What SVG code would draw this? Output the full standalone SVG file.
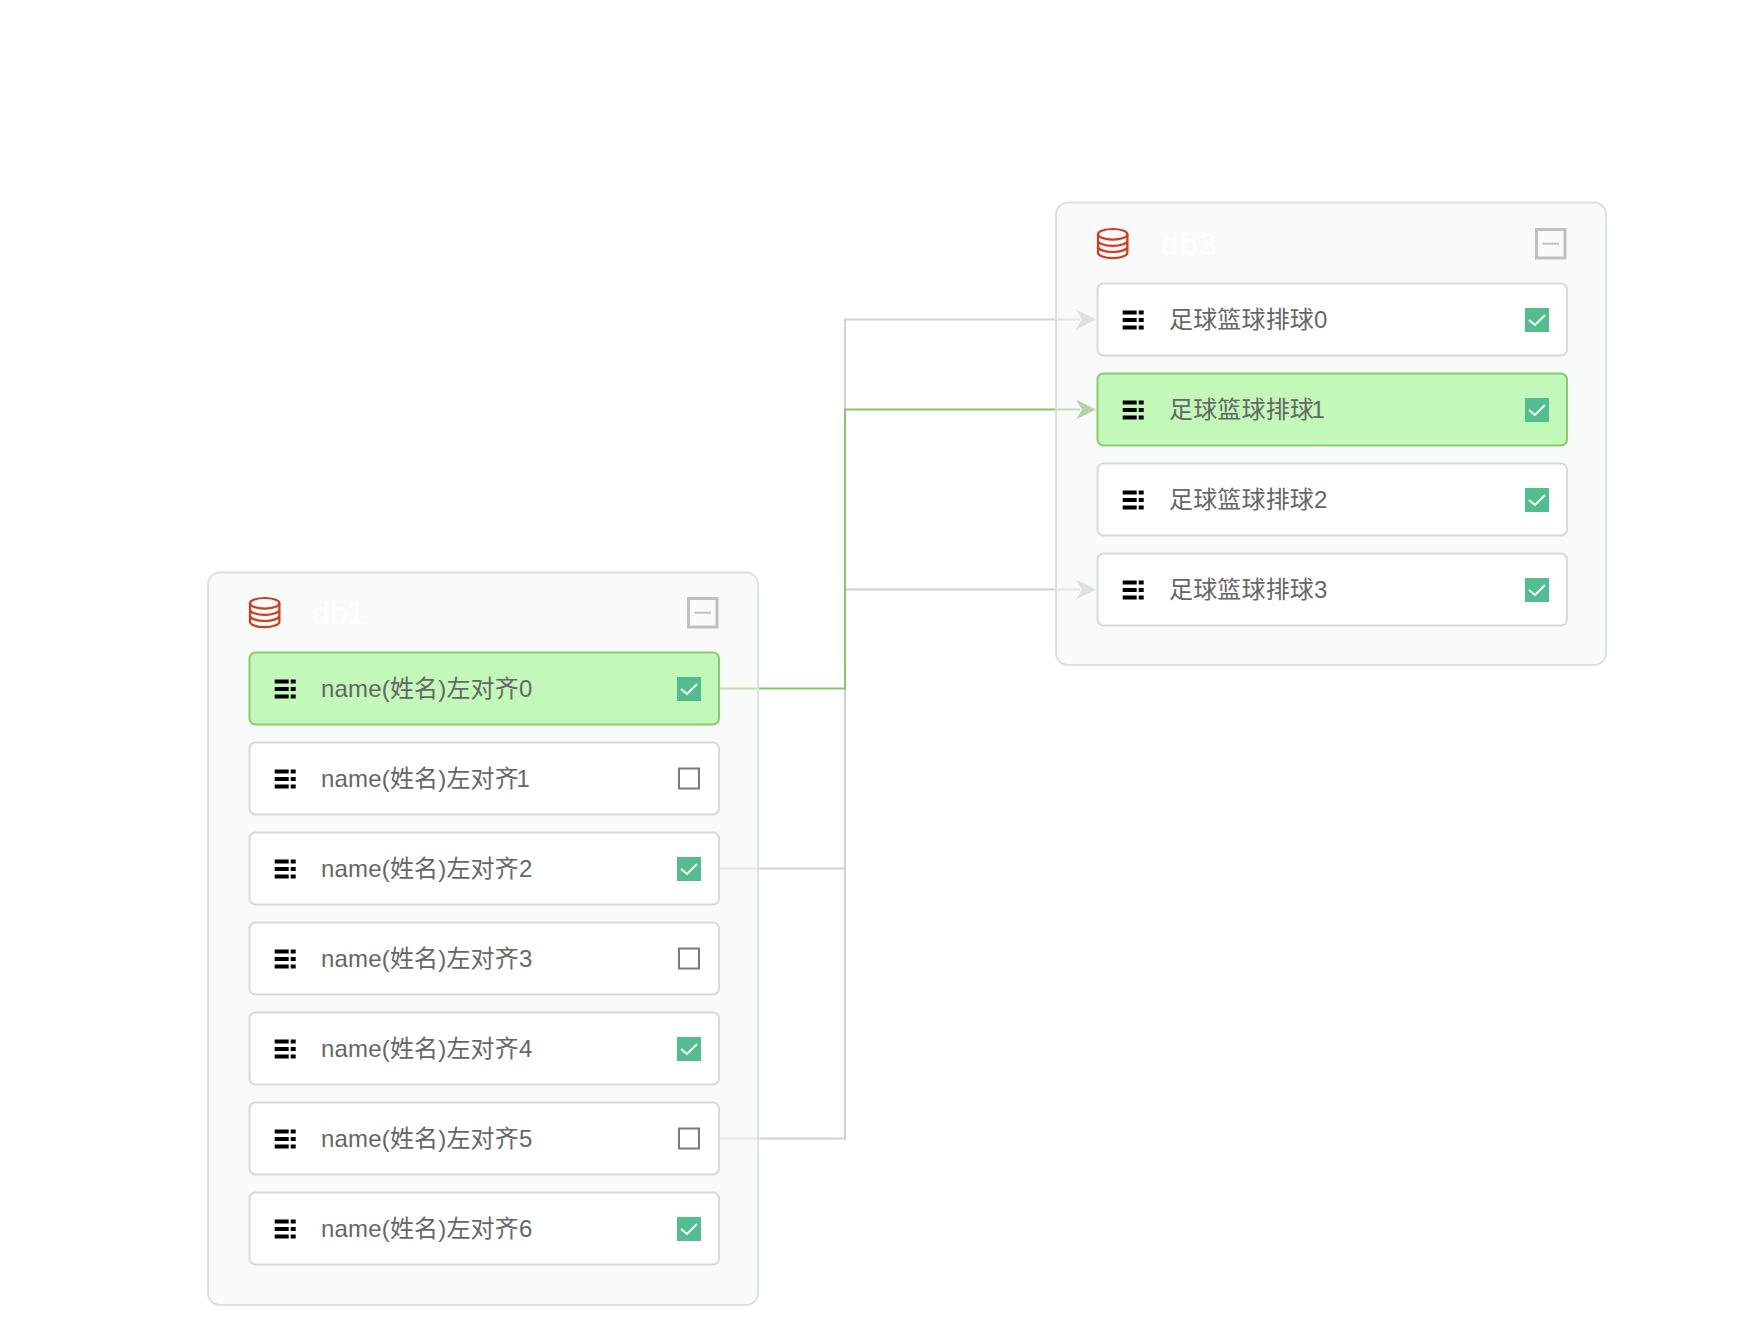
<svg xmlns="http://www.w3.org/2000/svg" width="1748" height="1334" viewBox="0 0 1748 1334">
<style>
.panel{fill:#f3f7f7;fill-opacity:.5;stroke:#dcdfe4;stroke-width:2}
.row{fill:#fff;stroke:#d9d9d9;stroke-width:2}
.on{fill:#c2f8b8;stroke:#8ccb6a;stroke-width:2}
.t{font-family:"Liberation Sans","Noto Sans CJK SC",sans-serif;font-size:24px;fill:#666;letter-spacing:.17px}
.title{font-family:"Liberation Sans","Noto Sans CJK SC",sans-serif;font-size:32px;fill:#fff}
.g{fill:none;stroke:#ced2d8;stroke-width:2}
.h{fill:none;stroke:#8cc26f;stroke-width:2}
.ga{fill:#c5c9cf}
.ha{fill:#77b150}
</style>
<defs>
<g id="menu" fill="#000"><path d="M0 0h14v4H0zM0 7.5h14v4H0zM0 15h14v4H0z"/><path d="M16 0h5v4h-5zM16 7.5h5v4h-5zM16 15h5v4h-5z"/></g>
<g id="yes"><rect width="24" height="24" fill="#52be90"/><path d="M4 12l6 5 10-10" fill="none" stroke="#fff" stroke-width="2"/></g>
<rect id="no" width="20" height="20" fill="#fff" stroke="#7b7b7b" stroke-width="2"/>
<g id="db" fill="none" stroke="#d13b20" stroke-width="2.2"><ellipse cx="15.7" cy="6.3" rx="14.7" ry="5.3"/><path d="M1 6.3V24.7A14.7 5.5 0 0 0 30.4 24.7V6.3M1 12.4A14.7 5.5 0 0 0 30.4 12.4M1 18.5A14.7 5.5 0 0 0 30.4 18.5"/></g>
<g id="minus"><rect x="1.5" y="1.5" width="28.5" height="28.5" fill="none" stroke="#c0c0c0" stroke-width="3"/><path d="M7.5 15.7h16.5" stroke="#c0c0c0" stroke-width="2"/></g>
<path id="arrow" d="M0-10L20 0L0 10L6 0z"/>
</defs>
<g id="connectors">
<path class="g" d="M719 868.5H845M719 1138.5H845V319.5H1080M845 589.5H1080"/>
<use href="#arrow" class="ga" x="1076" y="319.5"/>
<use href="#arrow" class="ga" x="1076" y="589.5"/>
<path class="h" d="M719 688.5H845V409.5H1080"/>
<use href="#arrow" class="ha" x="1076" y="409.5"/>
</g>
<g id="db1">
<rect class="panel" x="208" y="572.5" width="550" height="732.5" rx="12"/>
<use href="#db" x="249" y="597"/>
<text class="title" x="312" y="624">db1</text>
<use href="#minus" x="687" y="597"/>
</g>
<g id="db1-row0"><rect class="on" x="249.5" y="652.5" width="469.5" height="72" rx="6"/><use href="#menu" x="274.7" y="679.5"/><text class="t" x="321" y="697">name(姓名)左对齐0</text><use href="#yes" x="677" y="677"/></g>
<g id="db1-row1"><rect class="row" x="249.5" y="742.5" width="469.5" height="72" rx="6"/><use href="#menu" x="274.7" y="769.5"/><text class="t" x="321" y="787">name(姓名)左对齐<tspan dx="-2.5">1</tspan></text><use href="#no" x="679" y="768.5"/></g>
<g id="db1-row2"><rect class="row" x="249.5" y="832.5" width="469.5" height="72" rx="6"/><use href="#menu" x="274.7" y="859.5"/><text class="t" x="321" y="877">name(姓名)左对齐2</text><use href="#yes" x="677" y="857"/></g>
<g id="db1-row3"><rect class="row" x="249.5" y="922.5" width="469.5" height="72" rx="6"/><use href="#menu" x="274.7" y="949.5"/><text class="t" x="321" y="967">name(姓名)左对齐3</text><use href="#no" x="679" y="948.5"/></g>
<g id="db1-row4"><rect class="row" x="249.5" y="1012.5" width="469.5" height="72" rx="6"/><use href="#menu" x="274.7" y="1039.5"/><text class="t" x="321" y="1057">name(姓名)左对齐4</text><use href="#yes" x="677" y="1037"/></g>
<g id="db1-row5"><rect class="row" x="249.5" y="1102.5" width="469.5" height="72" rx="6"/><use href="#menu" x="274.7" y="1129.5"/><text class="t" x="321" y="1147">name(姓名)左对齐5</text><use href="#no" x="679" y="1128.5"/></g>
<g id="db1-row6"><rect class="row" x="249.5" y="1192.5" width="469.5" height="72" rx="6"/><use href="#menu" x="274.7" y="1219.5"/><text class="t" x="321" y="1237">name(姓名)左对齐6</text><use href="#yes" x="677" y="1217"/></g>
<g id="db3">
<rect class="panel" x="1056" y="202.5" width="550" height="462.5" rx="12"/>
<use href="#db" x="1097" y="228"/>
<text class="title" x="1161" y="255" letter-spacing="1">db3</text>
<use href="#minus" x="1535" y="228"/>
</g>
<g id="db3-row0"><rect class="row" x="1097.5" y="283.5" width="469.5" height="72" rx="6"/><use href="#menu" x="1122.7" y="310.5"/><text class="t" x="1169" y="328">足球篮球排球0</text><use href="#yes" x="1525" y="308"/></g>
<g id="db3-row1"><rect class="on" x="1097.5" y="373.5" width="469.5" height="72" rx="6"/><use href="#menu" x="1122.7" y="400.5"/><text class="t" x="1169" y="418">足球篮球排球<tspan dx="-2.5">1</tspan></text><use href="#yes" x="1525" y="398"/></g>
<g id="db3-row2"><rect class="row" x="1097.5" y="463.5" width="469.5" height="72" rx="6"/><use href="#menu" x="1122.7" y="490.5"/><text class="t" x="1169" y="508">足球篮球排球2</text><use href="#yes" x="1525" y="488"/></g>
<g id="db3-row3"><rect class="row" x="1097.5" y="553.5" width="469.5" height="72" rx="6"/><use href="#menu" x="1122.7" y="580.5"/><text class="t" x="1169" y="598">足球篮球排球3</text><use href="#yes" x="1525" y="578"/></g>
</svg>
